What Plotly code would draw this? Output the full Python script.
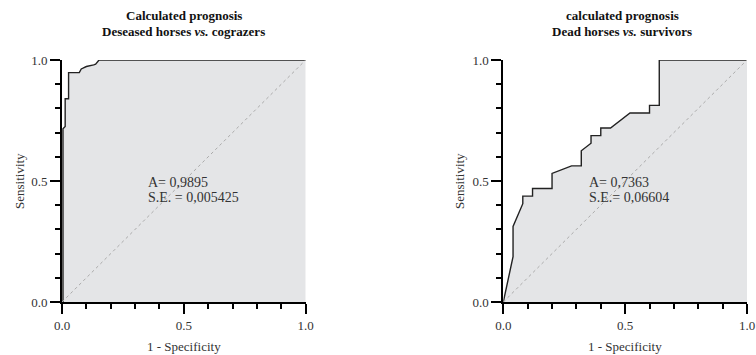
import plotly.graph_objects as go

# ---------------- data ----------------
left_fpr = [0.004, 0.004, 0.013, 0.013, 0.027, 0.027, 0.071, 0.079, 0.086, 0.100, 0.130, 0.138, 0.152, 1.0]
left_tpr = [0.0, 0.716, 0.725, 0.840, 0.840, 0.948, 0.948, 0.963, 0.966, 0.973, 0.980, 0.983, 1.0, 1.0]

right_fpr = [0, 0.04, 0.04, 0.08, 0.08, 0.12, 0.12, 0.20, 0.20, 0.28, 0.32, 0.32,
             0.36, 0.36, 0.40, 0.40, 0.44, 0.52, 0.60, 0.60, 0.64, 0.64, 1.0]
right_tpr = [0, 0.1875, 0.3125, 0.40625, 0.4375, 0.4375, 0.46875, 0.46875, 0.53125,
             0.5625, 0.5625, 0.625, 0.65625, 0.6875, 0.6875, 0.71875, 0.71875,
             0.78125, 0.78125, 0.8125, 0.8125, 1.0, 1.0]

titles_line1 = ["Calculated prognosis", "calculated prognosis"]
titles_line2 = ["Deseased horses <i>vs.</i> cograzers", "Dead horses <i>vs.</i> survivors"]
area_text = ["A= 0,9895", "A= 0,7363"]
se_text = ["S.E. = 0,005425", "S.E.= 0,06604"]
x_title = "1 - Specificity"
y_title = "Sensitivity"
diag = [0, 1]
major_step = 0.5
minor_step = 0.1

# ---------------- layout helpers ----------------
W, H = 756, 355
ML, MR, MT, MB = 62, 9, 60, 53
PW, PH = W - ML - MR, H - MT - MB
FONT = "Liberation Serif"


def fx(p):
    return (p - ML) / PW


def fy(p):
    return (H - MB - p) / PH


x_domains = [[fx(62.0), fx(305.7)], [fx(503.3), fx(747.0)]]
title_cx = [183.5, 622.0]
ytitle_x = [19.0, 459.0]

fig = go.Figure()
curves = [(left_fpr, left_tpr), (right_fpr, right_tpr)]
annotations = []
layout_axes = {}

for i, (fpr, tpr) in enumerate(curves):
    xa = "x" if i == 0 else "x2"
    ya = "y" if i == 0 else "y2"
    fig.add_trace(go.Scatter(x=fpr, y=tpr, mode="lines", xaxis=xa, yaxis=ya,
                             fill="tozeroy", fillcolor="#e4e5e7",
                             line=dict(color="#222222", width=1.4), showlegend=False))
    fig.add_trace(go.Scatter(x=diag, y=diag, mode="lines", xaxis=xa, yaxis=ya,
                             line=dict(color="#aaaaaa", width=1, dash="dot"),
                             showlegend=False))

    common = dict(range=[0, 1], showgrid=False, zeroline=False, showline=True,
                  linecolor="black", linewidth=2, ticks="outside", ticklen=10,
                  tickwidth=2, tickcolor="black", dtick=major_step, tickformat=".1f",
                  automargin=False, layer="above traces",
                  tickfont=dict(family=FONT, size=13, color="#333333"),
                  minor=dict(dtick=minor_step, ticks="outside", ticklen=5,
                             tickwidth=2, tickcolor="black"))
    layout_axes["xaxis" if i == 0 else "xaxis2"] = dict(domain=x_domains[i], anchor=ya, **common)
    layout_axes["yaxis" if i == 0 else "yaxis2"] = dict(domain=[0, 1], anchor=xa, **common)

    cx = title_cx[i]
    annotations.append(dict(x=fx(cx), y=fy(15), xref="paper", yref="paper",
                            text="<b>" + titles_line1[i] + "</b>", showarrow=False,
                            xanchor="center", yanchor="middle",
                            font=dict(family=FONT, size=13, color="#111111")))
    annotations.append(dict(x=fx(cx), y=fy(32), xref="paper", yref="paper",
                            text="<b>" + titles_line2[i] + "</b>", showarrow=False,
                            xanchor="center", yanchor="middle",
                            font=dict(family=FONT, size=13, color="#111111")))
    annotations.append(dict(x=0.345, y=0.492, xref=xa, yref=ya, text=area_text[i],
                            showarrow=False, xanchor="left", yanchor="middle",
                            font=dict(family=FONT, size=14, color="#333333")))
    annotations.append(dict(x=0.345, y=0.432, xref=xa, yref=ya, text=se_text[i],
                            showarrow=False, xanchor="left", yanchor="middle",
                            font=dict(family=FONT, size=14, color="#333333")))
    annotations.append(dict(x=(x_domains[i][0] + x_domains[i][1]) / 2, y=fy(346),
                            xref="paper", yref="paper", text=x_title, showarrow=False,
                            xanchor="center", yanchor="middle",
                            font=dict(family=FONT, size=13, color="#333333")))
    annotations.append(dict(x=fx(ytitle_x[i]), y=0.5, xref="paper", yref="paper",
                            text=y_title, showarrow=False, textangle=-90,
                            xanchor="center", yanchor="middle",
                            font=dict(family=FONT, size=13, color="#333333")))

fig.update_layout(width=W, height=H, margin=dict(l=ML, r=MR, t=MT, b=MB),
                  paper_bgcolor="white", plot_bgcolor="white", showlegend=False,
                  annotations=annotations, **layout_axes)

fig.write_html("out.html")
